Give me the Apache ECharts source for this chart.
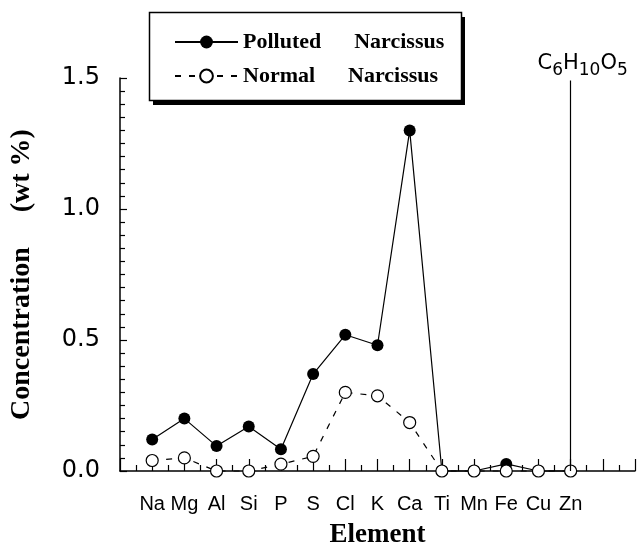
<!DOCTYPE html>
<html>
<head>
<meta charset="utf-8">
<style>
  html, body { margin: 0; padding: 0; background: #fff; }
  #chart { width: 638px; height: 556px; }
</style>
</head>
<body>
<div id="chart"></div>
<script src="https://cdn.jsdelivr.net/npm/echarts@6/dist/echarts.min.js"></script>
<script>
    // 元素 (x 轴 1..14)
    var elements = ['Na', 'Mg', 'Al', 'Si', 'P', 'S', 'Cl', 'K', 'Ca', 'Ti', 'Mn', 'Fe', 'Cu', 'Zn'];
    // 浓度 (wt %)
    var polluted = [0.12, 0.20, 0.095, 0.17, 0.083, 0.37, 0.52, 0.48, 1.30, 0, 0, 0.027, 0, 0];
    var normal   = [0.04, 0.05, 0, 0, 0.026, 0.056, 0.30, 0.287, 0.185, 0, 0, 0, 0, 0];
    // Zn 处的 C6H10O5 竖线
    var znSpike = 1.49;
    var yTicks = [0, 0.5, 1.0, 1.5];

    var chart = echarts.init(document.getElementById('chart'));

    function toPoints(arr) {
        return arr.map(function (v, i) { return [i + 1, v]; });
    }

    var serif = 'Liberation Serif';

    var option = {
        animation: false,
        backgroundColor: '#fff',
        // 图例的边框和阴影
        graphic: [
            { type: 'rect', z: 1, shape: { x: 153, y: 17, width: 312, height: 88 }, style: { fill: '#000' } },
            { type: 'rect', z: 2, shape: { x: 149.5, y: 12.5, width: 312, height: 88 },
              style: { fill: '#fff', stroke: '#000', lineWidth: 1.5 } }
        ],
        grid: { left: 120, right: 0, top: 78, bottom: 85 },
        legend: {
            orient: 'vertical',
            left: 149,
            top: 12,
            z: 10,
            padding: [19, 19, 12, 25],
            itemGap: 12,
            itemWidth: 63,
            itemHeight: 16,
            textStyle: { fontFamily: serif, fontWeight: 'bold', fontSize: 22, lineHeight: 22, color: '#000' },
            formatter: function (name) {
                return name === 'Polluted' ? 'Polluted      Narcissus' : 'Normal      Narcissus';
            },
            data: ['Polluted', 'Normal']
        },
        xAxis: {
            type: 'value',
            min: 0,
            max: 16,
            interval: 1,
            name: 'Element',
            nameLocation: 'middle',
            nameGap: 51,
            nameTextStyle: { fontFamily: serif, fontWeight: 'bold', fontSize: 27, color: '#000' },
            axisLine: { lineStyle: { color: '#000', width: 1.5 } },
            axisTick: { inside: true, length: 12, lineStyle: { color: '#000', width: 1.2 } },
            minorTick: { show: true, splitNumber: 2, length: 6, lineStyle: { color: '#000', width: 1.2 } },
            splitLine: { show: false },
            axisLabel: {
                margin: 23,
                fontFamily: 'Liberation Sans',
                fontSize: 20,
                color: '#000',
                formatter: function (v) { return elements[v - 1] || ''; }
            }
        },
        yAxis: {
            type: 'value',
            min: 0,
            max: 1.5,
            interval: 0.5,
            name: 'Concentration     (wt %)',
            nameLocation: 'middle',
            nameGap: 84,
            nameTextStyle: { fontFamily: serif, fontWeight: 'bold', fontSize: 28, color: '#000' },
            axisLine: { lineStyle: { color: '#000', width: 1.5 } },
            axisTick: { inside: true, length: 7, lineStyle: { color: '#000', width: 1.2 } },
            minorTick: { show: true, splitNumber: 10, length: 5, lineStyle: { color: '#000', width: 1.2 } },
            splitLine: { show: false },
            axisLabel: {
                margin: 20,
                fontFamily: 'DejaVu Sans',
                fontSize: 24,
                color: '#000',
                formatter: function (v) { return yTicks.indexOf(v) >= 0 ? v.toFixed(1) : ''; }
            }
        },
        series: [{
            name: 'Polluted',
            type: 'line',
            data: toPoints(polluted),
            clip: false,
            symbol: 'circle',
            symbolSize: 12,
            itemStyle: { color: '#000' },
            lineStyle: { color: '#000', width: 1.2 },
            markLine: {
                silent: true,
                symbol: 'none',
                lineStyle: { color: '#000', width: 1.2, type: 'solid' },
                label: {
                    show: true,
                    position: 'end',
                    distance: 2,
                    padding: [0, 0, 0, 24],
                    formatter: 'C{s|6}H{s|10}O{s|5}',
                    fontFamily: 'DejaVu Sans',
                    fontSize: 21,
                    color: '#000',
                    rich: {
                        s: { fontFamily: 'DejaVu Sans', fontSize: 17, color: '#000', verticalAlign: 'bottom', padding: [14, 0, 0, 0] }
                    }
                },
                data: [[{ coord: [14, 0] }, { coord: [14, znSpike] }]]
            }
        }, {
            name: 'Normal',
            type: 'line',
            data: toPoints(normal),
            clip: false,
            symbol: 'circle',
            symbolSize: 12,
            itemStyle: { color: '#fff', borderColor: '#000', borderWidth: 1.2 },
            lineStyle: { color: '#000', width: 1.2, type: [6, 8] }
        }]
    };

    chart.setOption(option);
</script>
</body>
</html>
